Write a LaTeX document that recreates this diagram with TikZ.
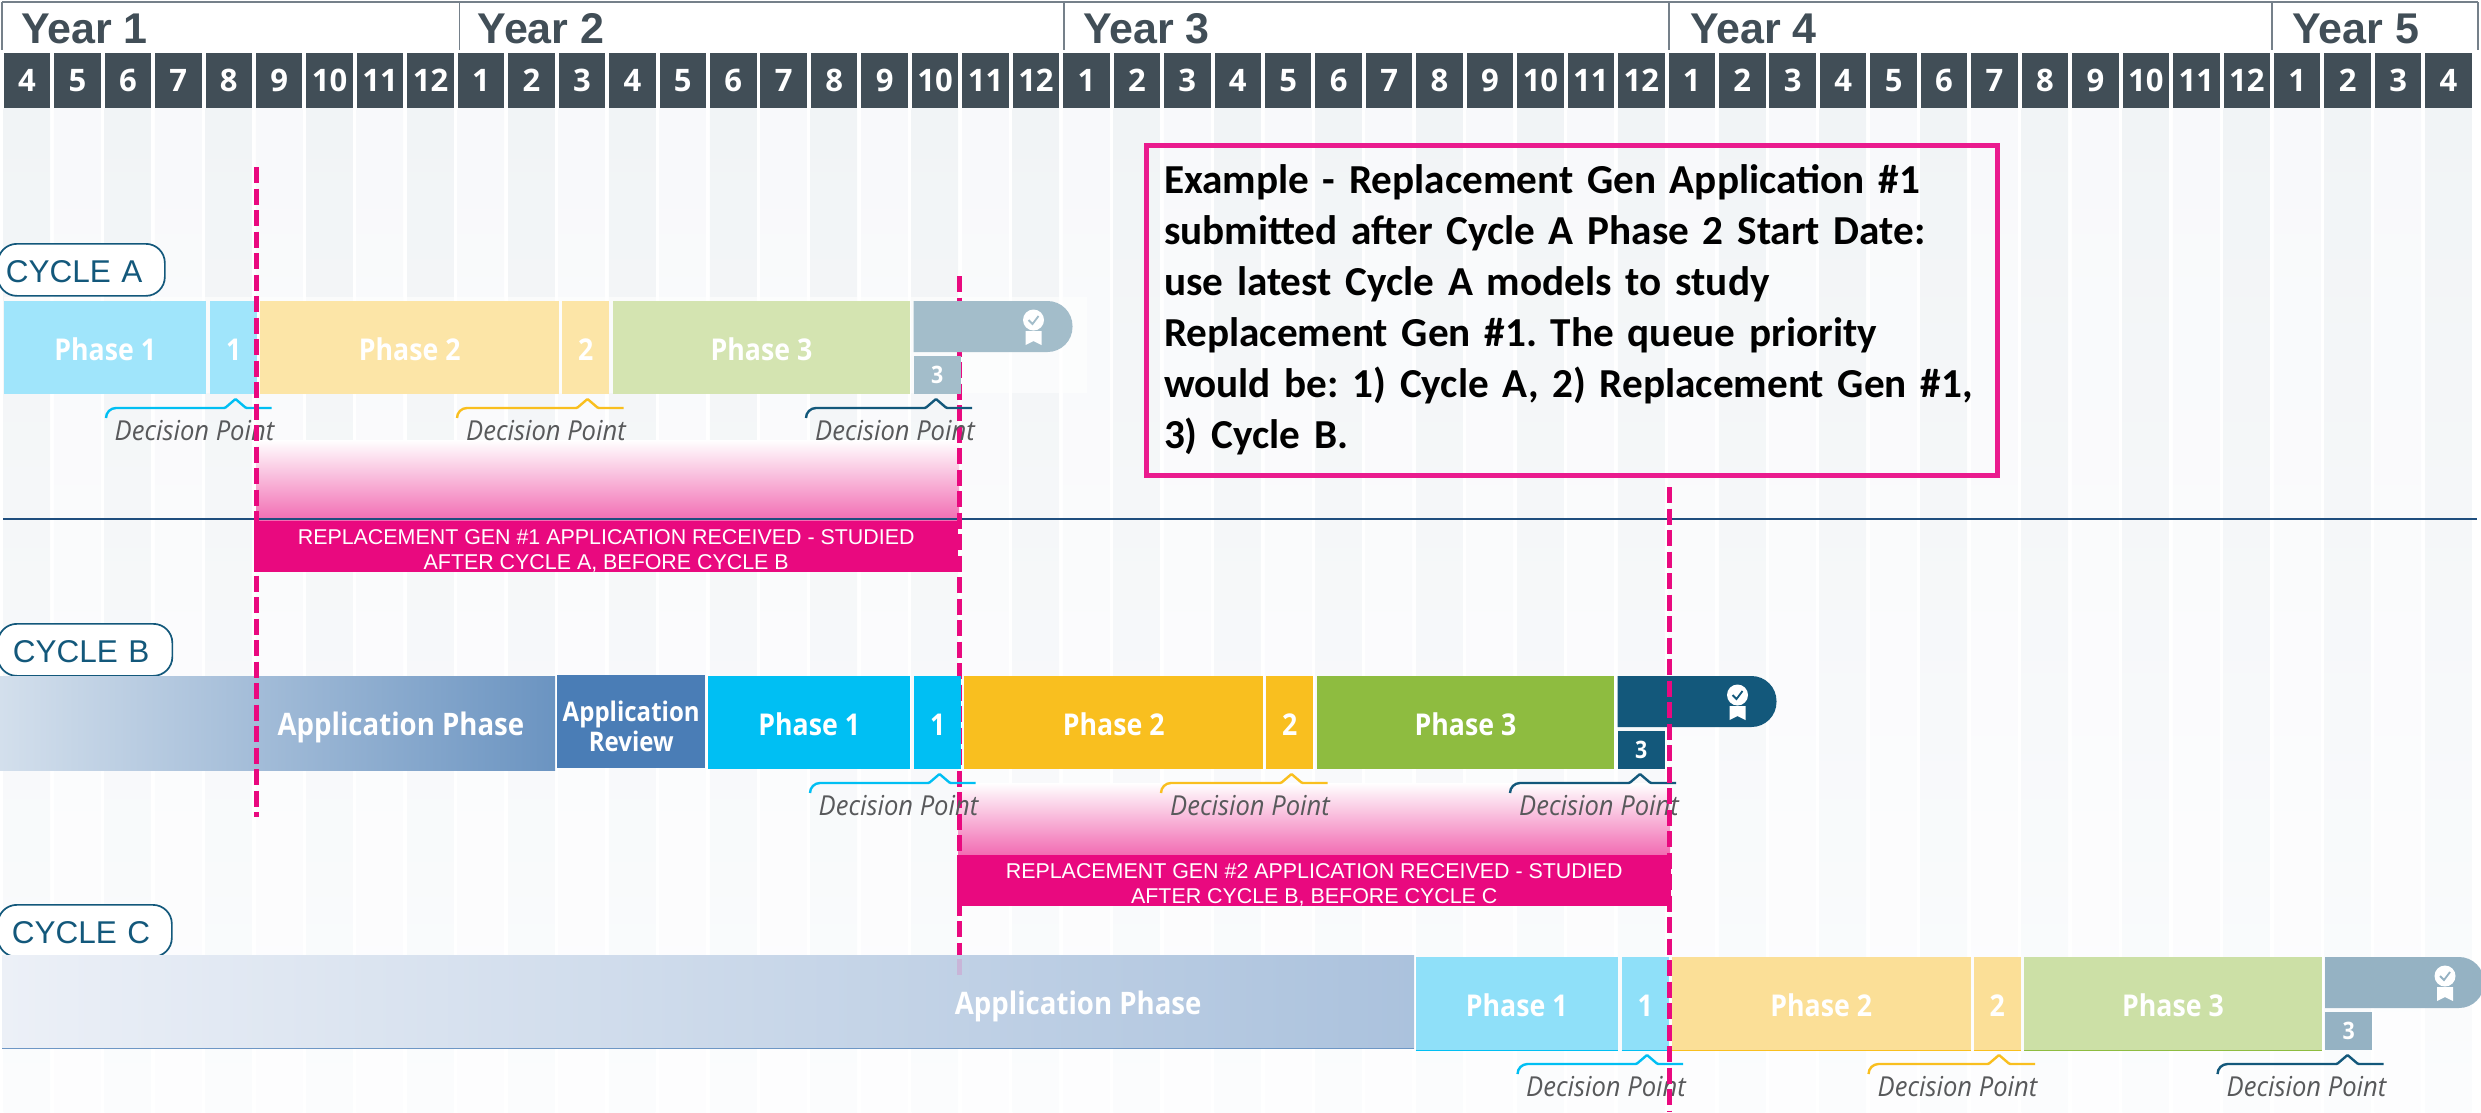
\documentclass[tikz,border=0pt]{standalone}
\usepackage{fontspec}
\newfontfamily\yearfont{Liberation Sans}
\newfontfamily\monthfont{Open Sans}
\newfontfamily\condfont[FakeStretch=0.89]{Open Sans}
\newfontfamily\pointfont[FakeStretch=0.93]{Open Sans}
\newfontfamily\notefont{Carlito}
\definecolor{slate}{HTML}{414E57}
\definecolor{yearline}{HTML}{75808A}
\definecolor{navy}{HTML}{13587B}
\definecolor{ruleblue}{HTML}{1F4E7E}
\definecolor{magenta}{HTML}{E9097F}
\definecolor{noteedge}{HTML}{EA1B8E}
\definecolor{pointgray}{HTML}{58595B}
\definecolor{cyanA}{HTML}{A0E5FB}
\definecolor{sunA}{HTML}{FCE5A7}
\definecolor{leafA}{HTML}{D4E4B1}
\definecolor{endA}{HTML}{A3BDCA}
\definecolor{cyanB}{HTML}{00BFF3}
\definecolor{sunB}{HTML}{F9BF1F}
\definecolor{leafB}{HTML}{8EBC40}
\definecolor{endB}{HTML}{13587B}
\definecolor{cyanC}{HTML}{8FE0F9}
\definecolor{sunC}{HTML}{FBDF97}
\definecolor{leafC}{HTML}{CCE0A6}
\definecolor{endC}{HTML}{95B2C3}
\definecolor{reviewblue}{HTML}{4A7DB6}
\definecolor{appBleft}{HTML}{D3DFEC}
\definecolor{appBright}{HTML}{6B94C1}
\definecolor{appCleft}{HTML}{ECF0F7}
\definecolor{appCright}{HTML}{ABC2DD}
\definecolor{colevenhigh}{HTML}{F1F4F6}
\definecolor{colevenlow}{HTML}{FBFCFD}
\definecolor{coloddhigh}{HTML}{F8F9FB}
\definecolor{coloddlow}{HTML}{FDFDFE}
\definecolor{fadedstart}{HTML}{C8B5D8}
\tikzset{
monthcell/.style={anchor=north west,inner sep=0pt,fill=slate,text=white,minimum width=46.5pt,minimum height=55pt,font=\monthfont\bfseries\fontsize{31}{31}\selectfont},
yearlabel/.style={anchor=base west,inner sep=0pt,text=slate,font=\yearfont\bfseries\fontsize{43}{43}\selectfont},
yeardiv/.style={yearline,line width=1.2pt},
barcell/.style={anchor=north west,inner sep=0pt,text=white,minimum height=93pt,text height=28pt,text depth=2pt,font=\condfont\bfseries\fontsize{30}{36}\selectfont},
appcell/.style={barcell,font=\condfont\bfseries\fontsize{31}{36}\selectfont},
smallcell/.style={anchor=north west,inner sep=0pt,text=white,minimum width=47pt,minimum height=38pt,font=\condfont\bfseries\fontsize{24}{24}\selectfont},
cyclepill/.style={anchor=north west,draw=navy,line width=1.7pt,fill=white,rounded corners=19pt,minimum height=52pt,inner ysep=0pt,text height=26pt,text depth=0pt,align=left,text=navy,font=\yearfont\fontsize{31.5}{32}\selectfont},
pointtext/.style={inner sep=0pt,text=pointgray,font=\pointfont\itshape\fontsize{27.5}{28}\selectfont},
pointmark/.style={line width=2.4pt},
replbox/.style={anchor=north west,inner sep=0pt,fill=magenta,text=white,align=center,text height=47pt,text depth=2pt,font=\yearfont\fontsize{21.4}{25}\selectfont},
startline/.style={magenta,line width=5pt,dash pattern=on 16pt off 5.5pt},
barline/.style={line width=1.5pt}
}
\newcommand{\awardicon}[3]{
\fill[white] (#1,#2) circle (10.5);
\draw[#3,line width=1.8pt] ({#1-5},{#2}) -- ({#1-1},{#2+4}) -- ({#1+5},{#2-4});
\fill[white] ({#1-8},{#2+11}) -- ({#1+8},{#2+11}) -- ({#1+8},{#2+25}) -- ({#1},{#2+21}) -- ({#1-8},{#2+25}) -- cycle;
}
\newcommand{\pointmarkat}[4]{
\draw[pointmark,#4] ({#1},{#3+10}) [rounded corners=10pt] -- ({#1},{#3}) [rounded corners=1pt] -- ({#2-10.5},{#3}) -- ({#2},{#3-9}) -- ({#2+10.5},{#3}) [sharp corners] -- ({#2+36},{#3});
}
\begin{document}
\begin{tikzpicture}[x=1pt,y=-1pt]
\useasboundingbox (0,0) rectangle (2481,1112);

\foreach \m [count=\i from 0] in {4,5,6,7,8,9,10,11,12,1,2,3,4,5,6,7,8,9,10,11,12,1,2,3,4,5,6,7,8,9,10,11,12,1,2,3,4,5,6,7,8,9,10,11,12,1,2,3,4}{
\pgfmathsetmacro{\mx}{3.5+\i*50.45}
\ifodd\m
\shade[top color=coloddhigh,bottom color=coloddlow] (\mx,108) rectangle ({\mx+46.5},1112);
\else
\shade[top color=colevenhigh,bottom color=colevenlow] (\mx,108) rectangle ({\mx+46.5},1112);
\fi
\node[monthcell] (month\i) at (\mx,53) {\m};
}

\draw[yearline,line width=1.5pt] (2,2) -- (2478,2);
\foreach \yx in {2,459.5,1064,1669,2272,2478}
\draw[yeardiv] (\yx,2) -- (\yx,50);

\node[yearlabel] (year1) at (21,43) {Year 1};
\node[yearlabel] (year2) at (477.5,43) {Year 2};
\node[yearlabel] (year3) at (1083,43) {Year 3};
\node[yearlabel] (year4) at (1690,43) {Year 4};
\node[yearlabel] (year5) at (2292,43) {Year 5};

\fill[white,opacity=.6] (4,297) rectangle (1087,393);

\shade[top color=white,middle color=magenta!14!white,bottom color=magenta!60!white] (256,440) rectangle (959,521);
\shade[top color=white,middle color=magenta!14!white,bottom color=magenta!60!white] (958,783) rectangle (1670,855);

\draw[ruleblue,line width=2pt] (3,518.7) -- (2477,518.7);

\node[replbox,minimum width=704pt,minimum height=51pt] (replone) at (254,521) {REPLACEMENT GEN \#1 APPLICATION RECEIVED - STUDIED\\AFTER CYCLE A, BEFORE CYCLE B};
\node[replbox,minimum width=714pt,minimum height=51pt] (repltwo) at (957,855) {REPLACEMENT GEN \#2 APPLICATION RECEIVED - STUDIED\\AFTER CYCLE B, BEFORE CYCLE C};

\node[cyclepill,text width=151pt,inner xsep=8pt] (pillA) at (-3,243) {CYCLE A};
\node[cyclepill,text width=144.5pt,inner xsep=15pt] (pillB) at (-3,623) {CYCLE B};
\node[cyclepill,text width=146pt,inner xsep=14pt] (pillC) at (-3,904) {CYCLE C};

\shade[left color=appBleft,right color=appBright] (0,676) rectangle (555,770.7);
\node[appcell,minimum width=244pt] (appB) at (277.5,676) {Application Phase};
\node[barcell,fill=reviewblue,minimum width=148pt,align=center,text height=62pt,text depth=2pt,font=\condfont\bfseries\fontsize{27}{30}\selectfont] (reviewB) at (557,675) {Application\\Review};

\coordinate (lineonetop) at (256.7,167);
\coordinate (lineonebot) at (256.7,817);
\coordinate (linetwotop) at (959,276);
\coordinate (linetwobot) at (959,955);
\coordinate (linethreetop) at (1669,487);
\coordinate (linethreebot) at (1669,1112);
\draw[startline] (linetwotop) -- (linetwobot);

\shade[left color=appCleft,right color=appCright] (2,955) rectangle (1414,1048);
\node[appcell,minimum width=400pt] (appC) at (878,955) {Application Phase};
\draw[fadedstart,line width=5pt] (959,959) -- (959,975);
\draw[barline,reviewblue!80!white] (2,1048.5) -- (1414,1048.5);

\foreach \cyc/\bx/\by/\colone/\coltwo/\colthree/\colend in {A/4/301/cyanA/sunA/leafA/endA,B/708/676/cyanB/sunB/leafB/endB,C/1415.5/957/cyanC/sunC/leafC/endC}{
\node[barcell,fill=\colone,minimum width=202pt] (\cyc p1) at (\bx,\by) {Phase 1};
\node[barcell,fill=\colone,minimum width=47pt] (\cyc n1) at ({\bx+206},\by) {1};
\node[barcell,fill=\coltwo,minimum width=299pt] (\cyc p2) at ({\bx+256},\by) {Phase 2};
\node[barcell,fill=\coltwo,minimum width=47pt] (\cyc n2) at ({\bx+558},\by) {2};
\node[barcell,fill=\colthree,minimum width=297.5pt] (\cyc p3) at ({\bx+608.5},\by) {Phase 3};
\fill[\colend] ({\bx+909.5},\by) -- ({\bx+1040},\by) [rounded corners=25pt] -- ({\bx+1068.5},\by) -- ({\bx+1068.5},{\by+51}) [sharp corners] -- ({\bx+909.5},{\by+51}) -- cycle;
\node[smallcell,fill=\colend] (\cyc n3) at ({\bx+909.5},{\by+54.5}) {3};
\awardicon{\bx+1029.5}{\by+19}{\colend}
\pointmarkat{\bx+102}{\bx+231.5}{\by+107}{cyanB}
\pointmarkat{\bx+453}{\bx+583.5}{\by+107}{sunB}
\pointmarkat{\bx+802}{\bx+932}{\by+107}{endB}
\node[pointtext] (\cyc d1) at ({\bx+190.5},{\by+130}) {Decision Point};
\node[pointtext] (\cyc d2) at ({\bx+542},{\by+130}) {Decision Point};
\node[pointtext] (\cyc d3) at ({\bx+891},{\by+130}) {Decision Point};
}

\draw[barline,cyanB] (Cp1.south west) -- (Cp1.south east) (Cn1.south west) -- (Cn1.south east);
\draw[barline,sunB] (Cp2.south west) -- (Cp2.south east) (Cn2.south west) -- (Cn2.south east);
\draw[barline,leafB] (Cp3.south west) -- (Cp3.south east);

\draw[startline] (lineonetop) -- (lineonebot);
\draw[startline] (linethreetop) -- (linethreebot);

\node[anchor=north west,draw=noteedge,line width=5pt,inner xsep=18pt,inner ysep=0pt,text width=815pt,minimum height=330pt,align=left,font=\notefont\bfseries\fontsize{41.2}{51}\selectfont\frenchspacing] (note) at (1143.5,142.5) {Example - Replacement Gen Application \#1\\submitted after Cycle A Phase 2 Start Date:\\use latest Cycle A models to study\\Replacement Gen \#1. The queue priority\\would be: 1) Cycle A, 2) Replacement Gen \#1,\\3) Cycle B.};
\end{tikzpicture}
\end{document}
